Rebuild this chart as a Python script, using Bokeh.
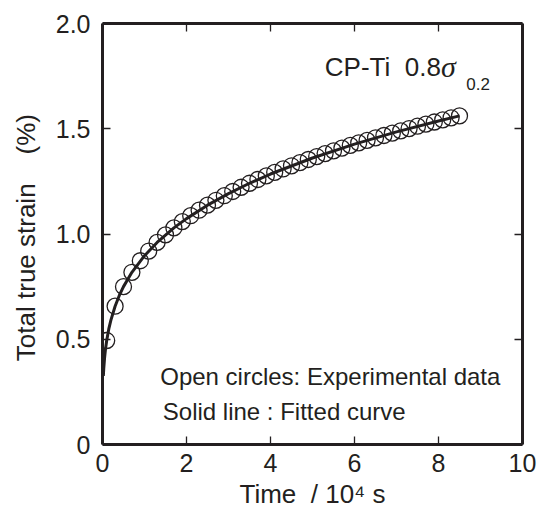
from bokeh.plotting import figure
from bokeh.models import Range1d, LinearAxis, FixedTicker, Label, ColumnDataSource
from bokeh.embed import file_html
from bokeh.resources import INLINE

# Experimental data (time in 10^4 s, total true strain in %)
exp_time = [0.1, 0.3, 0.5, 0.7, 0.9, 1.1, 1.3, 1.5, 1.7, 1.9, 2.1, 2.3, 2.5, 2.7, 2.9,
            3.1, 3.3, 3.5, 3.7, 3.9, 4.1, 4.3, 4.5, 4.7, 4.9, 5.1, 5.3, 5.5, 5.7, 5.9,
            6.1, 6.3, 6.5, 6.7, 6.9, 7.1, 7.3, 7.5, 7.7, 7.9, 8.1, 8.3, 8.5]
exp_strain = [0.494, 0.657, 0.750, 0.818, 0.873, 0.919, 0.960, 0.996, 1.029, 1.059, 1.087,
              1.113, 1.137, 1.160, 1.182, 1.202, 1.222, 1.241, 1.259, 1.276, 1.293, 1.309,
              1.324, 1.339, 1.354, 1.368, 1.382, 1.395, 1.408, 1.421, 1.433, 1.445, 1.457,
              1.468, 1.479, 1.490, 1.501, 1.512, 1.522, 1.532, 1.542, 1.552, 1.561]

# Fitted curve
fit_time = [0.02, 0.03, 0.05, 0.07, 0.1, 0.15, 0.2, 0.3, 0.4, 0.5, 0.7, 1.0, 1.3, 1.7,
            2.0, 2.5, 3.0, 3.5, 4.0, 5.0, 6.0, 7.0, 8.0, 8.5]
fit_strain = [0.326, 0.362, 0.413, 0.451, 0.494, 0.549, 0.591, 0.657, 0.708, 0.750, 0.818,
              0.897, 0.960, 1.029, 1.073, 1.137, 1.192, 1.241, 1.285, 1.361, 1.427, 1.485,
              1.537, 1.561]

x_ticks = [0, 2, 4, 6, 8, 10]
y_ticks = [0, 0.5, 1.0, 1.5, 2.0]
y_tick_labels = {0: "0", 0.5: "0.5", 1: "1.0", 1.5: "1.5", 2: "2.0"}

INK = "#231f20"
FONT = "Liberation Sans"
NB = "\u00a0"

p = figure(frame_width=420, frame_height=421,
           x_range=Range1d(0, 10), y_range=Range1d(0, 2),
           output_backend="svg", toolbar_location=None,
           min_border_left=102, min_border_right=22, min_border_top=23, min_border_bottom=64)
p.xgrid.visible = False
p.ygrid.visible = False
p.outline_line_color = None

def style_axis(ax, show_labels, ticks):
    ax.ticker = FixedTicker(ticks=ticks)
    ax.axis_line_width = 3
    ax.axis_line_color = INK
    ax.major_tick_line_color = INK
    ax.major_tick_line_width = 1.3
    ax.major_tick_in = 8
    ax.major_tick_out = 0
    ax.minor_tick_line_color = None
    ax.major_label_text_font = FONT
    if show_labels:
        ax.major_label_text_font_size = "25px"
        ax.major_label_text_color = INK
    else:
        ax.major_label_text_font_size = "1px"
        ax.major_label_text_color = None
        ax.major_label_standoff = 0

xb = p.xaxis[0]
yl = p.yaxis[0]
style_axis(xb, True, x_ticks)
style_axis(yl, True, y_ticks)
xb.major_label_standoff = 9
yl.major_label_standoff = 12
yl.major_label_overrides = y_tick_labels

for ax in (xb, yl):
    ax.axis_label_text_font = FONT
    ax.axis_label_text_font_style = "normal"
    ax.axis_label_text_font_size = "26px"
    ax.axis_label_text_color = INK
xb.axis_label = "Time" + NB + NB + "/ 10\u2074 s"
xb.axis_label_standoff = 4
yl.axis_label = "Total true strain" + NB * 4 + "(%)" + NB
yl.axis_label_standoff = 12

top = LinearAxis()
style_axis(top, False, x_ticks)
p.add_layout(top, "above")
right = LinearAxis()
style_axis(right, False, y_ticks)
p.add_layout(right, "right")

src_fit = ColumnDataSource(dict(x=fit_time, y=fit_strain))
src_exp = ColumnDataSource(dict(x=exp_time, y=exp_strain))
p.line("x", "y", source=src_fit, line_color=INK, line_width=3)
p.scatter("x", "y", source=src_exp, marker="circle", size=16,
          fill_color=None, line_color=INK, line_width=1.3)

def lab(x, y, text, size, font=FONT, style="normal", **kw):
    l = Label(x=x, y=y, text=text, text_font=font, text_font_size=size,
              text_color=INK, text_font_style=style, text_baseline="alphabetic", **kw)
    p.add_layout(l)
    return l

lab(5.293, 1.794, "CP-Ti" + NB + NB + "0.8", "26px")
lab(8.06, 1.794, "σ", "30px", font="Liberation Serif", style="italic")
lab(8.66, 1.711, "0.2", "17px")

lab(1.374, 0.321, "Open circles: Experimental data", "24px")
lab(1.436, 0.157, "Solid line : Fitted curve", "24px")

open("out.html", "w").write(file_html(p, INLINE))
